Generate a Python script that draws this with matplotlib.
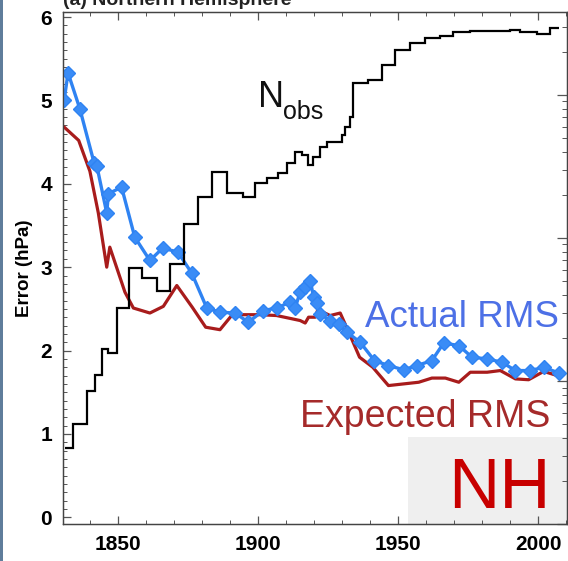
import matplotlib
matplotlib.use("Agg")
import matplotlib.pyplot as plt
from matplotlib.patches import Rectangle
from matplotlib.ticker import MultipleLocator, LogLocator, NullFormatter

plt.rcParams['font.family'] = ['Liberation Sans', 'DejaVu Sans']

# actual RMS error of the analysis (hPa)
act_year = [1830.8, 1832.2, 1836.4, 1841.5, 1842.5, 1846.0, 1846.6, 1851.3, 1856.0,
            1861.4, 1866.0, 1871.4, 1876.3, 1881.7, 1886.4, 1891.8, 1896.5, 1901.9,
            1906.6, 1911.4, 1913.2, 1915.0, 1916.8, 1918.6, 1919.8, 1921.0, 1922.1,
            1925.7, 1928.7, 1931.7, 1936.4, 1941.5, 1946.5, 1951.9, 1956.7, 1962.0,
            1966.2, 1971.6, 1976.3, 1981.7, 1987.0, 1991.8, 1997.1, 2001.9, 2007.3]
act_rms = [5.00, 5.33, 4.90, 4.25, 4.21, 3.65, 3.88, 3.96, 3.36,
           3.08, 3.23, 3.18, 2.93, 2.51, 2.46, 2.45, 2.34, 2.48,
           2.51, 2.58, 2.51, 2.70, 2.76, 2.84, 2.64, 2.57, 2.44,
           2.36, 2.32, 2.22, 2.10, 1.88, 1.82, 1.77, 1.82, 1.88,
           2.09, 2.06, 1.92, 1.90, 1.86, 1.76, 1.76, 1.80, 1.73]

# expected RMS error from the ensemble spread (hPa)
exp_year = [1830.8, 1836.0, 1840.0, 1843.0, 1846.0, 1847.1, 1849.5, 1852.5, 1855.5,
            1861.4, 1866.2, 1871.0, 1876.5, 1881.3, 1886.4, 1890.8, 1900.7, 1906.6,
            1915.0, 1916.8, 1918.0, 1920.4, 1921.3, 1925.7, 1929.3, 1932.6, 1936.2,
            1940.9, 1946.5, 1951.9, 1957.3, 1962.0, 1966.8, 1971.6, 1975.7, 1981.7,
            1986.4, 1991.8, 1996.5, 2001.9, 2006.7]
exp_rms = [4.68, 4.52, 4.15, 3.65, 3.00, 3.24, 3.00, 2.70, 2.51,
           2.45, 2.53, 2.78, 2.52, 2.28, 2.25, 2.43, 2.43, 2.42,
           2.36, 2.33, 2.40, 2.40, 2.49, 2.42, 2.45, 2.20, 1.92,
           1.80, 1.58, 1.60, 1.62, 1.67, 1.67, 1.62, 1.74, 1.74,
           1.76, 1.66, 1.65, 1.75, 1.70]

# number of observations per period (log axis)
nobs_edges = [1831.1, 1833.9, 1838.9, 1841.8, 1844.3, 1846.4, 1849.6, 1853.9, 1858.6,
              1863.9, 1868.6, 1873.6, 1878.6, 1883.6, 1888.9, 1894.6, 1898.9, 1903.2,
              1907.1, 1910.4, 1913.2, 1915.7, 1917.9, 1919.6, 1922.1, 1924.6, 1930.0,
              1931.1, 1932.9, 1933.9, 1939.3, 1944.3, 1948.9, 1954.3, 1959.6, 1965.0,
              1969.6, 1975.7, 1990.0, 1993.6, 1999.6, 2004.3, 2007.5]
nobs = [34, 50, 85, 110, 167, 157, 324, 617, 525,
        426, 658, 1253, 1935, 2894, 2064, 1935, 2424, 2628,
        2849, 3344, 3994, 3805, 3239, 3685, 4330, 4694, 5250,
        5975, 7015, 12130, 12735, 16210, 20640, 23100, 25050, 25870,
        27590, 28040, 28500, 27590, 26710, 29430]

W, H = 568, 561
fig = plt.figure(figsize=(W / 100, H / 100), dpi=100)
ax = fig.add_axes([63 / W, 37 / H, 504 / W, 512 / H])
ax2 = ax.twinx()

# grey panel behind the hemisphere tag, drawn under the axes
fig.patches.append(Rectangle((408 / W, 36 / H), 160 / W, 88 / H, transform=fig.transFigure,
                             facecolor='#efefef', edgecolor='none', zorder=-1))
ax.set_facecolor('none')
ax2.set_facecolor('none')

ax.plot(exp_year, exp_rms, color='#a81c1c', lw=2.3, zorder=3)
ax.plot(act_year, act_rms, color='#2f83f2', lw=2.4, marker='D', ms=6.8,
        mfc='#3a8cf6', mec='#2f83f2', zorder=4)
ax2.stairs(nobs, nobs_edges, color='black', lw=1.6, baseline=None)

ax.set_xlim(1830.4, 2010.2)
ax.set_ylim(-0.08, 6.06)
ax2.set_yscale('log')
ax2.set_ylim(10, 38000)

for a in (ax, ax2):
    for s in a.spines.values():
        s.set_color('#444444')
        s.set_linewidth(0.9)

ax.xaxis.set_major_locator(MultipleLocator(50))
ax.xaxis.set_minor_locator(MultipleLocator(10))
ax.yaxis.set_major_locator(MultipleLocator(1))
ax.yaxis.set_minor_locator(MultipleLocator(0.1))
ax.tick_params(which='both', direction='in', top=True, right=False, color='#555555')
ax.tick_params(which='major', length=6, width=0.9, labelsize=15)
ax.tick_params(which='minor', length=3, width=0.7)
ax.tick_params(axis='x', pad=8)
ax.tick_params(axis='y', pad=8)
for lab in ax.get_xticklabels() + ax.get_yticklabels():
    lab.set_fontweight('bold')

# right-hand log axis for the observation count; its labels fall off the panel
ax2.yaxis.set_major_locator(LogLocator(base=10))
ax2.yaxis.set_minor_locator(LogLocator(base=10, subs=range(2, 10)))
ax2.yaxis.set_minor_formatter(NullFormatter())
ax2.tick_params(which='both', direction='in', color='#555555', labelright=False)
ax2.tick_params(which='major', length=7, width=0.9)
ax2.tick_params(which='minor', length=3.5, width=0.7)

ax.set_ylabel('Error (hPa)', fontsize=13.5, fontweight='bold', labelpad=5)

fig.text(63 / W, 1 - 5 / H, '(a) Northern Hemisphere', fontsize=14, fontweight='bold',
         va='baseline', ha='left', color='#222222')

ax.text(1900.0, 4.92, 'N', fontsize=26, color='#111111', va='baseline')
ax.text(1909.0, 4.78, 'obs', fontsize=18, color='#111111', va='baseline')
ax.text(1938.2, 2.28, 'Actual RMS', fontsize=26.5, color='#4d70e6', va='baseline')
ax.text(1915.0, 1.08, 'Expected RMS', fontsize=27, color='#a52a2a', va='baseline')
ax.text(1967.9, 0.11, 'NH', fontsize=51, color='#c80000', va='baseline')

# slate strip along the left edge
fig.patches.append(Rectangle((0, 0), 3.5 / W, 1, transform=fig.transFigure,
                             facecolor='#5f7d9b', edgecolor='none', zorder=5))

fig.savefig('out.png', dpi=100)
